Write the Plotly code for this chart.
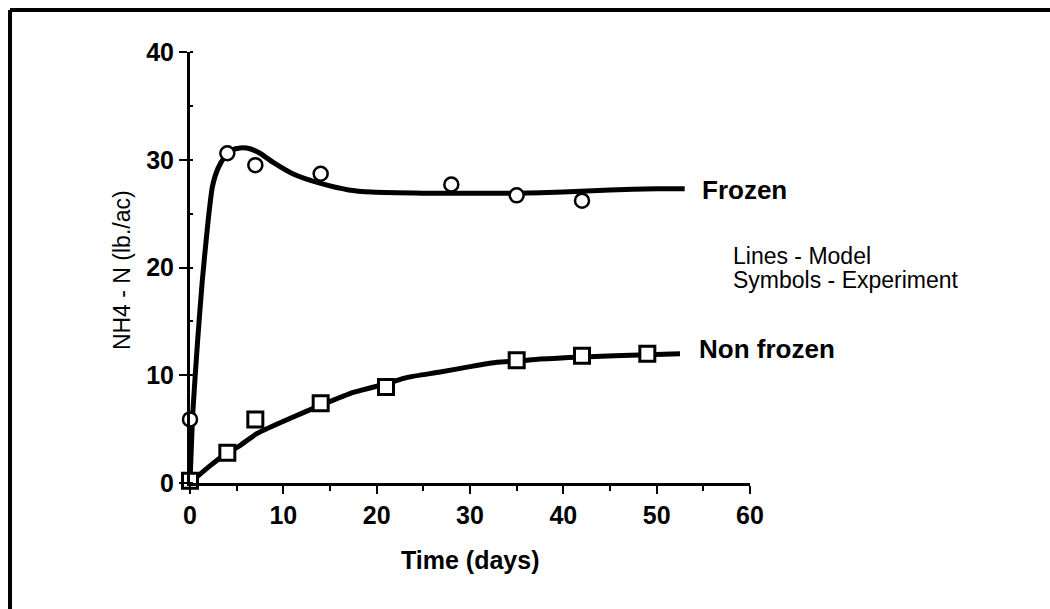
import plotly.graph_objects as go

# Experimental data (symbols)
frozen_exp_days = [0, 4, 7, 14, 28, 35, 42]
frozen_exp_nh4 = [5.9, 30.6, 29.5, 28.7, 27.7, 26.7, 26.2]

nonfrozen_exp_days = [0, 4, 7, 14, 21, 35, 42, 49]
nonfrozen_exp_nh4 = [0.2, 2.8, 5.9, 7.4, 8.9, 11.4, 11.8, 12.0]

# Model curves (lines)
frozen_model_days = [0, 0.3, 0.8, 1.3, 1.9, 2.4, 3.0, 3.75, 4.5, 5.4, 6.5, 7.5,
                     9, 11, 14, 17, 19.5, 25, 30, 35, 40, 45, 50, 53]
frozen_model_nh4 = [0, 6.5, 13, 18.6, 24, 27.5, 29.2, 30.3, 30.9, 31.1, 31.0, 30.6,
                    29.7, 28.7, 27.8, 27.2, 27.0, 26.9, 26.9, 26.9, 27.0, 27.2, 27.3, 27.3]

nonfrozen_model_days = [0, 2, 4, 5.4, 7.2, 11, 14, 17.5, 21, 23.3, 26.8, 30,
                        32.9, 35, 37.5, 42, 49, 52.5]
nonfrozen_model_nh4 = [0.0, 1.5, 2.8, 3.5, 4.6, 6.1, 7.2, 8.4, 9.2, 9.8, 10.3, 10.8,
                       11.2, 11.3, 11.5, 11.7, 11.9, 12.0]

x_ticks = [0, 10, 20, 30, 40, 50, 60]
y_ticks = [0, 10, 20, 30, 40]

FONT = "Liberation Sans, Arial, sans-serif"

fig = go.Figure()

fig.add_trace(go.Scatter(x=frozen_model_days, y=frozen_model_nh4, mode="lines",
                         line=dict(color="black", width=5, shape="spline", smoothing=0.6),
                         hoverinfo="skip", showlegend=False, cliponaxis=False))
fig.add_trace(go.Scatter(x=nonfrozen_model_days, y=nonfrozen_model_nh4, mode="lines",
                         line=dict(color="black", width=5, shape="spline", smoothing=0.6),
                         hoverinfo="skip", showlegend=False, cliponaxis=False))
fig.add_trace(go.Scatter(x=frozen_exp_days, y=frozen_exp_nh4, mode="markers",
                         marker=dict(symbol="circle", size=14, color="white",
                                     line=dict(color="black", width=2.5)),
                         showlegend=False, cliponaxis=False))
fig.add_trace(go.Scatter(x=nonfrozen_exp_days, y=nonfrozen_exp_nh4, mode="markers",
                         marker=dict(symbol="square", size=15, color="white",
                                     line=dict(color="black", width=3)),
                         showlegend=False, cliponaxis=False))

fig.update_xaxes(range=[0, 60], tickvals=x_ticks, showline=True, linecolor="black",
                 linewidth=3, ticks="outside", ticklen=8, tickwidth=2, tickcolor="black",
                 minor=dict(dtick=5, ticks="outside", ticklen=5, tickwidth=2, tickcolor="black"),
                 showgrid=False, zeroline=False,
                 tickfont=dict(family=FONT, size=25, color="black", weight="bold"))
fig.update_yaxes(range=[0, 40], tickvals=y_ticks, showline=True, linecolor="black",
                 linewidth=3, ticks="outside", ticklen=8, tickwidth=2, tickcolor="black",
                 minor=dict(dtick=5, ticks="inside", ticklen=3, tickwidth=2, tickcolor="black"),
                 showgrid=False, zeroline=False,
                 tickfont=dict(family=FONT, size=25, color="black", weight="bold"))

annotations = [
    dict(text="Frozen", x=54.6, y=27.2, xref="x", yref="y", xanchor="left", yanchor="middle",
         showarrow=False, font=dict(family=FONT, size=26, color="black", weight="bold")),
    dict(text="Non frozen", x=54.3, y=12.4, xref="x", yref="y", xanchor="left", yanchor="middle",
         showarrow=False, font=dict(family=FONT, size=26, color="black", weight="bold")),
    dict(text="Lines - Model", x=58.0, y=21.1, xref="x", yref="y", xanchor="left", yanchor="middle",
         showarrow=False, font=dict(family=FONT, size=23, color="black")),
    dict(text="Symbols - Experiment", x=58.0, y=18.8, xref="x", yref="y", xanchor="left",
         yanchor="middle", showarrow=False, font=dict(family=FONT, size=23, color="black")),
    dict(text="Time (days)", x=0.5, y=-0.1787, xref="paper", yref="paper", xanchor="center",
         yanchor="middle", showarrow=False,
         font=dict(family=FONT, size=25, color="black", weight="bold")),
    dict(text="NH4 - N (lb./ac)", x=-0.1214, y=0.494, xref="paper", yref="paper",
         xanchor="center", yanchor="middle", textangle=-90, showarrow=False,
         font=dict(family=FONT, size=23, color="black")),
]

shapes = [
    dict(type="line", xref="paper", yref="paper", x0=-0.3214, x1=-0.3214, y0=-0.30, y1=1.0974,
         line=dict(color="black", width=4)),
    dict(type="line", xref="paper", yref="paper", x0=-0.3214, x1=1.55, y0=1.0974, y1=1.0974,
         line=dict(color="black", width=4)),
]

fig.update_layout(width=1050, height=609, margin=dict(l=190, r=300, t=52, b=126),
                  paper_bgcolor="white", plot_bgcolor="white",
                  annotations=annotations, shapes=shapes, showlegend=False)

fig.write_html("out.html")
